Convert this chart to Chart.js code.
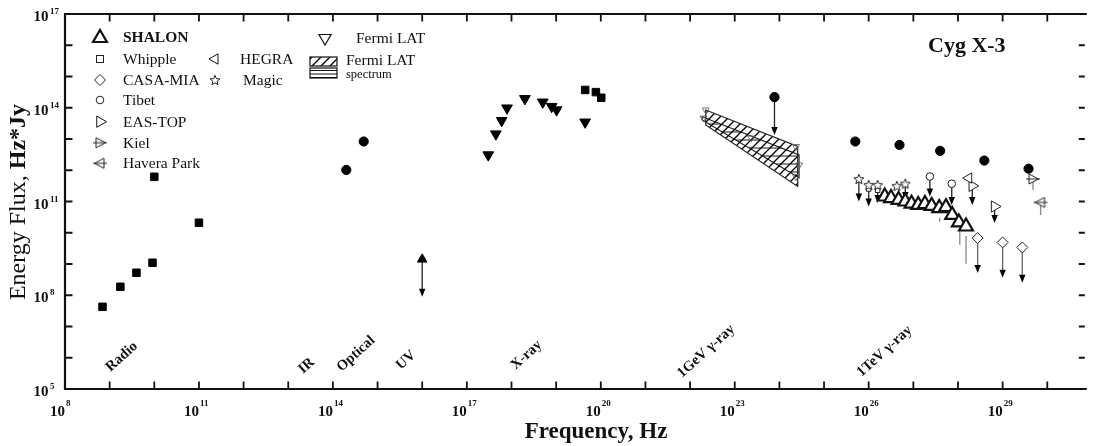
<!DOCTYPE html>
<html>
<head>
<meta charset="utf-8">
<script src="https://cdn.jsdelivr.net/npm/chart.js@4.4.0/dist/chart.umd.min.js"></script>
<style>
  html, body { margin: 0; padding: 0; background: #fff; }
  #wrap { width: 1095px; height: 446px; }
</style>
</head>
<body>
<div id="wrap"><canvas id="sed" width="1095" height="446"></canvas></div>
<script>
// ---- data : log10(frequency, Hz) / log10(energy flux, Hz*Jy) ----
const radioX = [8.84, 9.24, 9.60, 9.96, 10.00, 11.00];
const radioY = [7.63, 8.27, 8.72, 9.04, 11.79, 10.32];
const irOptX = [14.30, 14.69];
const irOptY = [12.01, 12.92];
const uvX = [16.0];
const uvY = [9.15];
const uvLow = [7.95];
const xrayTriX = [17.48, 17.65, 17.78, 17.90, 18.30, 18.70, 18.90, 19.01, 19.65];
const xrayTriY = [12.49, 13.16, 13.59, 13.99, 14.29, 14.18, 14.04, 13.93, 13.54];
const xraySqX = [19.65, 19.89, 20.01];
const xraySqY = [14.57, 14.50, 14.32];
const fermiX = [22.35, 22.30, 23.37, 24.37, 24.44, 24.37];
const fermiY = [13.93, 13.67, 13.03, 12.76, 12.17, 11.80];
const fermiBandX = [22.35, 24.41, 24.41, 22.35];
const fermiBandY = [13.93, 12.76, 11.48, 13.45];
const fermiSpecX = [22.27, 24.44, 24.44, 22.27];
const fermiSpecY = [13.71, 12.49, 11.76, 13.61];
const gevUlX = [23.89];
const gevUlY = [14.34];
const gevUlLim = [13.13];
const tevDotX = [25.70, 26.69, 27.60, 28.59, 29.58];
const tevDotY = [12.92, 12.81, 12.62, 12.31, 12.05];
const magicX = [25.78, 26.00, 26.20, 26.63, 26.82];
const magicY = [11.72, 11.53, 11.53, 11.50, 11.57];
const magicLim = [11.00, 10.84, 10.95, null, 11.05];
const whippleX = [26.00, 26.20];
const whippleY = [11.40, 11.36];
const shalonX = [26.36, 26.50, 26.67, 26.82, 26.96, 27.11, 27.26, 27.41, 27.58, 27.73, 27.87, 28.02, 28.18];
const shalonY = [11.16, 11.11, 11.05, 11.00, 10.93, 10.89, 10.92, 10.86, 10.79, 10.82, 10.57, 10.33, 10.20];
const shalonBarX = [27.59, 28.04, 28.18];
const shalonBarLo = [10.35, 9.62, 9.01];
const shalonBarHi = [10.48, 10.09, 9.90];
const tibetX = [27.37, 27.86];
const tibetY = [11.80, 11.57];
const tibetLim = [11.16, 10.89];
const hegraX = [28.24];
const hegraY = [11.75];
const easTopX = [28.32, 28.82];
const easTopY = [11.50, 10.84];
const easTopLim = [10.89, 10.31];
const casaX = [28.44, 29.00, 29.44];
const casaY = [9.83, 9.69, 9.53];
const casaLim = [8.71, 8.56, 8.40];
const kielX = [29.68];
const kielY = [11.72];
const kielLo = [11.37];
const haveraX = [29.85];
const haveraY = [10.97];
const haveraLo = [10.57];

// axes
const xRange = [8, 30.84];
const yRange = [5, 17];
const xTickLabels = [8, 11, 14, 17, 20, 23, 26, 29];
const yTickLabels = [5, 8, 11, 14, 17];
const bandNames = ['Radio', 'IR', 'Optical', 'UV', 'X-ray', '1GeV \u03b3-ray', '1TeV \u03b3-ray'];
const bandStart = [9.02, 13.33, 14.19, 15.52, 18.09, 21.82, 25.84];

const SERIF = '"Liberation Serif", "Times New Roman", serif';
const pts = (xs, ys) => xs.map((v, i) => ({ x: 10 ** v, y: 10 ** ys[i] }));

// ---- little marker images ----
function icon(kind) {
  const c = document.createElement('canvas');
  c.width = c.height = 16;
  const g = c.getContext('2d');
  g.strokeStyle = '#222';
  g.fillStyle = '#fff';
  g.lineWidth = 1;
  const m = 8;
  g.beginPath();
  if (kind === 'star') {
    for (let i = 0; i < 10; i++) {
      const r = i % 2 ? 2.3 : 5.2;
      const a = -Math.PI / 2 + i * Math.PI / 5;
      const px = m + r * Math.cos(a), py = m + 0.5 + r * Math.sin(a);
      i ? g.lineTo(px, py) : g.moveTo(px, py);
    }
    g.closePath(); g.fill(); g.stroke();
  } else {
    const s = kind === 'kiel' ? 1 : -1;
    g.moveTo(m + s * 5.5, m);
    g.lineTo(m - s * 4, m - 5);
    g.lineTo(m - s * 4, m + 5);
    g.closePath(); g.fill(); g.stroke();
    g.beginPath(); g.moveTo(m - 7, m); g.lineTo(m + 7, m); g.stroke();
  }
  return c;
}
const starImg = icon('star');
const kielImg = icon('kiel');
const haveraImg = icon('havera');

function pattern(ctx, kind) {
  const c = document.createElement('canvas');
  const g = c.getContext('2d');
  g.strokeStyle = '#111';
  g.beginPath();
  if (kind === 'diag') {
    c.width = c.height = 9;
    g.lineWidth = 1.3;
    g.moveTo(-1, 10); g.lineTo(10, -1);
    g.moveTo(-5, 5); g.lineTo(5, -5);
    g.moveTo(4, 14); g.lineTo(14, 4);
  } else {
    c.width = 6; c.height = 8;
    g.lineWidth = 0.9;
    g.moveTo(0, 4); g.lineTo(6, 4);
  }
  g.stroke();
  return ctx.createPattern(c, 'repeat');
}

function arrowDown(ctx, px, y0, y1, line) {
  ctx.strokeStyle = line;
  ctx.lineWidth = 1.3;
  ctx.beginPath(); ctx.moveTo(px, y0); ctx.lineTo(px, y1 - 6); ctx.stroke();
  ctx.fillStyle = '#000';
  ctx.beginPath();
  ctx.moveTo(px - 3.2, y1 - 8); ctx.lineTo(px + 3.2, y1 - 8); ctx.lineTo(px, y1);
  ctx.closePath(); ctx.fill();
}

// ---- overlays: bands, limits, error bars ----
const overlays = {
  id: 'overlays',
  beforeDatasetsDraw(chart) {
    const { ctx, scales: { x, y } } = chart;
    const X = v => x.getPixelForValue(10 ** v);
    const Y = v => y.getPixelForValue(10 ** v);
    ctx.save();

    const poly = (xs, ys, fill) => {
      ctx.beginPath();
      xs.forEach((v, i) => i ? ctx.lineTo(X(v), Y(ys[i])) : ctx.moveTo(X(v), Y(ys[i])));
      ctx.closePath();
      ctx.fillStyle = fill; ctx.fill();
      ctx.strokeStyle = '#222'; ctx.lineWidth = 1.2; ctx.stroke();
    };
    poly(fermiSpecX, fermiSpecY, pattern(ctx, 'horiz'));
    poly(fermiBandX, fermiBandY, pattern(ctx, 'diag'));

    const limits = [
      [gevUlX, gevUlY, gevUlLim, '#222'],
      [uvX, uvY, uvLow, '#222'],
      [magicX, magicY, magicLim, '#222'],
      [tibetX, tibetY, tibetLim, '#222'],
      [easTopX, easTopY, easTopLim, '#222'],
      [casaX, casaY, casaLim, '#666']
    ];
    limits.forEach(([xs, ys, lim, col]) => xs.forEach((v, i) => {
      if (lim[i] == null) return;
      arrowDown(ctx, X(v), Y(ys[i]), Y(lim[i]), col);
    }));

    ctx.strokeStyle = '#888';
    ctx.lineWidth = 1.3;
    ctx.beginPath();
    shalonBarX.forEach((v, i) => { ctx.moveTo(X(v), Y(shalonBarHi[i])); ctx.lineTo(X(v), Y(shalonBarLo[i])); });
    [[kielX, kielY, kielLo], [haveraX, haveraY, haveraLo]].forEach(([xs, ys, lo]) =>
      xs.forEach((v, i) => { ctx.moveTo(X(v), Y(ys[i])); ctx.lineTo(X(v), Y(lo[i])); }));
    ctx.stroke();
    ctx.restore();
  }
};

// ---- frame, tick labels, titles, legend ----
function tri(ctx, cx, cy, r, rot, fill, lw) {
  ctx.save();
  ctx.translate(cx, cy);
  ctx.rotate(rot * Math.PI / 180);
  ctx.beginPath();
  ctx.moveTo(0, -r);
  ctx.lineTo(r * 0.866, r * 0.5);
  ctx.lineTo(-r * 0.866, r * 0.5);
  ctx.closePath();
  ctx.fillStyle = fill; ctx.fill();
  ctx.lineWidth = lw; ctx.strokeStyle = '#111'; ctx.stroke();
  ctx.restore();
}

const frame = {
  id: 'frame',
  afterDraw(chart) {
    const { ctx, chartArea: a, scales: { x, y } } = chart;
    ctx.save();
    ctx.strokeStyle = '#111';
    ctx.lineWidth = 2.2;
    ctx.beginPath();
    ctx.moveTo(a.right + 2, a.top); ctx.lineTo(a.left, a.top);
    ctx.lineTo(a.left, a.bottom); ctx.lineTo(a.right + 2, a.bottom);
    ctx.stroke();

    ctx.lineWidth = 1.8;
    ctx.beginPath();
    for (let e = xRange[0] + 1; e <= Math.floor(xRange[1]); e++) {
      const px = x.getPixelForValue(10 ** e);
      ctx.moveTo(px, a.bottom); ctx.lineTo(px, a.bottom - 7.5);
      ctx.moveTo(px, a.top); ctx.lineTo(px, a.top + 7.5);
    }
    for (let e = yRange[0] + 1; e < yRange[1]; e++) {
      const py = y.getPixelForValue(10 ** e);
      ctx.moveTo(a.left, py); ctx.lineTo(a.left + 7.5, py);
      ctx.moveTo(a.right, py); ctx.lineTo(a.right - 6, py);
    }
    ctx.stroke();

    ctx.fillStyle = '#111';
    ctx.textBaseline = 'alphabetic';
    xTickLabels.forEach(e => {
      const px = x.getPixelForValue(10 ** e);
      ctx.font = 'bold 15px ' + SERIF; ctx.textAlign = 'right';
      ctx.fillText('10', px, a.bottom + 27);
      ctx.font = 'bold 9px ' + SERIF; ctx.textAlign = 'left';
      ctx.fillText(String(e), px + 1, a.bottom + 17);
    });
    yTickLabels.forEach(e => {
      const py = y.getPixelForValue(10 ** e);
      ctx.font = 'bold 15px ' + SERIF; ctx.textAlign = 'right';
      ctx.fillText('10', a.left - 16.5, py + 7);
      ctx.font = 'bold 9px ' + SERIF; ctx.textAlign = 'left';
      ctx.fillText(String(e), a.left - 15, py);
    });

    // band names
    const bandBase = [372, 374, 372, 370, 370, 378, 377];
    ctx.font = 'bold 14.5px ' + SERIF;
    ctx.textAlign = 'left';
    bandNames.forEach((t, i) => {
      ctx.save();
      ctx.translate(x.getPixelForValue(10 ** bandStart[i]), bandBase[i]);
      ctx.rotate(-42 * Math.PI / 180);
      ctx.fillText(t, 0, 0);
      ctx.restore();
    });

    // axis titles
    ctx.font = 'bold 23px ' + SERIF;
    ctx.textAlign = 'center';
    ctx.fillText('Frequency, Hz', 596, 438);
    ctx.save();
    ctx.translate(25, 202);
    ctx.rotate(-Math.PI / 2);
    ctx.font = '24px ' + SERIF;
    const w1 = ctx.measureText('Energy Flux, ').width;
    ctx.font = 'bold 24px ' + SERIF;
    const w2 = ctx.measureText('Hz*Jy').width;
    ctx.textAlign = 'left';
    ctx.font = '24px ' + SERIF;
    ctx.fillText('Energy Flux, ', -(w1 + w2) / 2, 0);
    ctx.font = 'bold 24px ' + SERIF;
    ctx.fillText('Hz*Jy', -(w1 + w2) / 2 + w1, 0);
    ctx.restore();

    ctx.font = 'bold 22px ' + SERIF;
    ctx.textAlign = 'left';
    ctx.fillText('Cyg X-3', 928, 52);

    // legend
    const rows = [37, 59, 80, 100, 121.7, 142.7, 163.3];
    tri(ctx, 100, rows[0] + 1, 8, 0, '#fff', 2.2);
    ctx.lineWidth = 1; ctx.strokeStyle = '#222';
    ctx.strokeRect(96.5, rows[1] - 3.5, 7, 7);
    ctx.beginPath();
    ctx.moveTo(100, rows[2] - 5.5); ctx.lineTo(105.5, rows[2]); ctx.lineTo(100, rows[2] + 5.5); ctx.lineTo(94.5, rows[2]);
    ctx.closePath(); ctx.stroke();
    ctx.beginPath(); ctx.arc(100, rows[3], 3.8, 0, Math.PI * 2); ctx.stroke();
    tri(ctx, 100, rows[4], 6.5, 90, '#fff', 1);
    ctx.drawImage(kielImg, 92, rows[5] - 8);
    ctx.drawImage(haveraImg, 92, rows[6] - 8);
    tri(ctx, 215, rows[1], 6, 270, '#fff', 1);
    ctx.drawImage(starImg, 207, rows[2] - 8);
    tri(ctx, 325, 38, 7, 180, '#fff', 1.2);

    ctx.font = 'bold 15.5px ' + SERIF;
    ctx.fillText('SHALON', 123, rows[0] + 5);
    ctx.font = '15.5px ' + SERIF;
    ['Whipple', 'CASA-MIA', 'Tibet', 'EAS-TOP', 'Kiel', 'Havera Park'].forEach((t, i) =>
      ctx.fillText(t, 123, rows[i + 1] + 5));
    ctx.fillText('HEGRA', 240, rows[1] + 5);
    ctx.fillText('Magic', 243, rows[2] + 5);
    ctx.fillText('Fermi LAT', 356, 43);
    ctx.fillText('Fermi LAT', 346, 65);
    ctx.font = '12.5px ' + SERIF;
    ctx.fillText('spectrum', 346, 78);

    ctx.fillStyle = pattern(ctx, 'diag');
    ctx.fillRect(310, 57, 27, 9);
    ctx.lineWidth = 1.1; ctx.strokeStyle = '#111';
    ctx.beginPath();
    [70.5, 74, 77.5].forEach(v => { ctx.moveTo(310, v); ctx.lineTo(337, v); });
    ctx.stroke();
    ctx.lineWidth = 1.2;
    ctx.strokeRect(310, 57, 27, 9);
    ctx.strokeRect(310, 68, 27, 10);
    ctx.restore();
  }
};

// ---- chart ----
const black = { backgroundColor: '#000', borderColor: '#000', borderWidth: 1 };
const open = { backgroundColor: '#fff', borderColor: '#222', borderWidth: 1 };

new Chart(document.getElementById('sed'), {
  type: 'scatter',
  data: {
    datasets: [
      { label: 'Kiel', data: pts(kielX, kielY), pointStyle: kielImg, ...open },
      { label: 'Havera Park', data: pts(haveraX, haveraY), pointStyle: haveraImg, ...open },
      { label: 'SHALON', data: pts(shalonX, shalonY), pointStyle: 'triangle', pointRadius: 8,
        backgroundColor: '#fff', borderColor: '#111', borderWidth: 2.2 },
      { label: 'HEGRA', data: pts(hegraX, hegraY), pointStyle: 'triangle', pointRotation: 270, pointRadius: 6, ...open },
      { label: 'EAS-TOP', data: pts(easTopX, easTopY), pointStyle: 'triangle', pointRotation: 90, pointRadius: 6.5, ...open },
      { label: 'CASA-MIA', data: pts(casaX, casaY), pointStyle: 'rectRot', pointRadius: 5.5, ...open },
      { label: 'Tibet', data: pts(tibetX, tibetY), pointStyle: 'circle', pointRadius: 3.8, ...open },
      { label: 'Magic', data: pts(magicX, magicY), pointStyle: starImg, ...open },
      { label: 'Whipple', data: pts(whippleX, whippleY), pointStyle: 'rect', pointRadius: 3.2, ...open },
      { label: 'TeV dots', data: pts(tevDotX, tevDotY), pointStyle: 'circle', pointRadius: 4.6, ...black },
      { label: 'GeV limit', data: pts(gevUlX, gevUlY), pointStyle: 'circle', pointRadius: 4.6, ...black },
      { label: 'Fermi LAT', data: pts(fermiX, fermiY), pointStyle: 'triangle', pointRotation: 180, pointRadius: 4,
        backgroundColor: 'rgba(0,0,0,0)', borderColor: '#666', borderWidth: 0.9 },
      { label: 'X-ray sq', data: pts(xraySqX, xraySqY), pointStyle: 'rect', pointRadius: 5.3, ...black },
      { label: 'X-ray', data: pts(xrayTriX, xrayTriY), pointStyle: 'triangle', pointRotation: 180, pointRadius: 6.2, ...black },
      { label: 'UV', data: pts(uvX, uvY), pointStyle: 'triangle', pointRadius: 5.5, ...black },
      { label: 'IR/Optical', data: pts(irOptX, irOptY), pointStyle: 'circle', pointRadius: 4.6, ...black },
      { label: 'Radio', data: pts(radioX, radioY), pointStyle: 'rect', pointRadius: 5.3, ...black }
    ]
  },
  options: {
    responsive: false,
    animation: false,
    devicePixelRatio: 1,
    events: [],
    layout: { padding: { left: 65, top: 14, right: 2, bottom: 57 } },
    plugins: { legend: { display: false }, tooltip: { enabled: false } },
    scales: {
      x: { type: 'logarithmic', display: false, min: 10 ** xRange[0], max: 10 ** xRange[1] },
      y: { type: 'logarithmic', display: false, min: 10 ** yRange[0], max: 10 ** yRange[1] }
    }
  },
  plugins: [overlays, frame]
});
</script>
</body>
</html>
